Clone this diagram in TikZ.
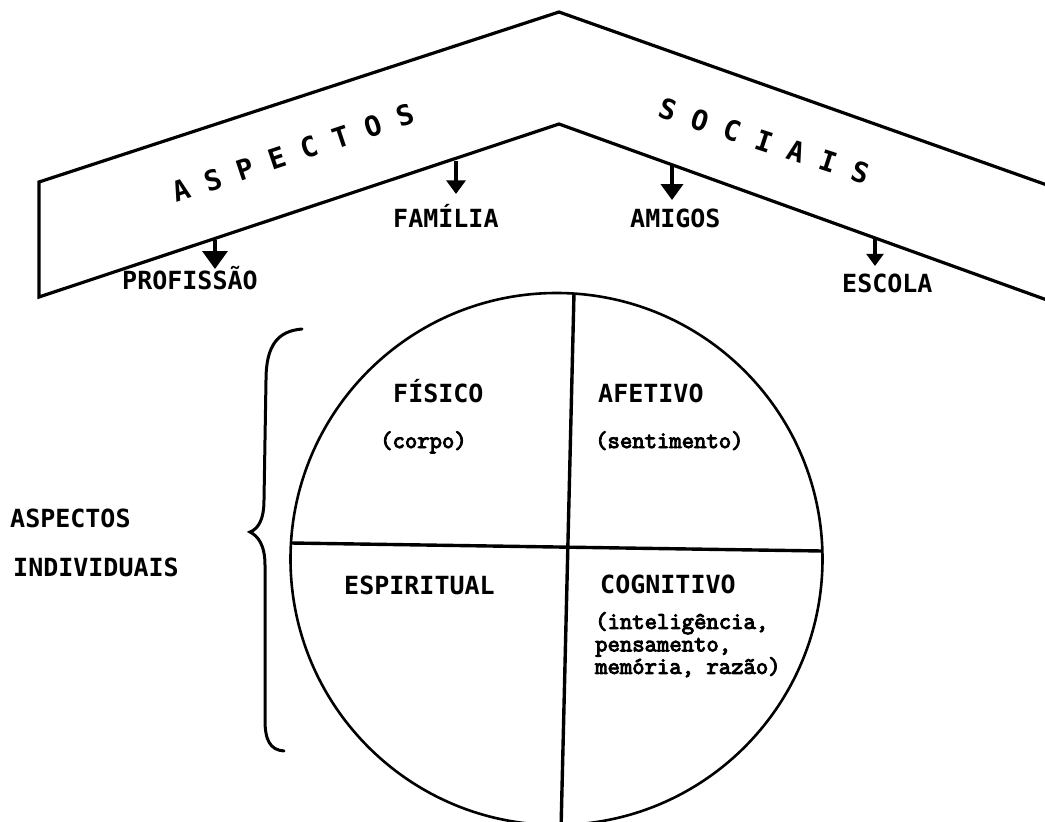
\documentclass[tikz,border=0pt]{standalone}
\usepackage{fontspec}
\newfontfamily\gothic{DejaVu Sans Mono}
\newfontfamily\typew[FakeBold=4]{Latin Modern Mono}
\usetikzlibrary{arrows.meta}
\begin{document}
\begin{tikzpicture}[x=1pt,y=-1pt,
  caps/.style={font=\gothic\bfseries\fontsize{25}{30}\selectfont, inner sep=0pt, anchor=base west},
  paren/.style={font=\typew\fontsize{24}{22.5}\selectfont, inner sep=0pt, anchor=base west},
  rooftext/.style={font=\gothic\bfseries\fontsize{28}{30}\selectfont, inner sep=0pt},
  roofline/.style={line width=3.2pt, line join=miter},
  divider/.style={line width=3.4pt},
  bigarrow/.style={line width=3.4pt, -{Triangle[width=#1pt,length=0.72*#1pt]}},
]
\useasboundingbox (0,0) rectangle (1045,822);
\clip (0,0) rectangle (1045,822);

% roof
\coordinate (oL) at (39,182);
\coordinate (oP) at (559,12);
\coordinate (oR) at (1047,185);
\coordinate (iL) at (39,297);
\coordinate (iP) at (559,124);
\coordinate (iR) at (1047,300);
\draw[roofline] (oR) -- (oP) -- (oL) -- (iL) -- (iP) -- (iR);

\node[rooftext, rotate=18.5] (asp) at (293,153) {A S P E C T O S};
\node[rooftext, rotate=-18] (soc) at (764,141) {S O C I A I S};

% arrow start points on the inner roof line
\coordinate (aProf) at (215,240);
\coordinate (aFam) at (456,161);
\coordinate (aAmi) at (672,166);
\coordinate (aEsc) at (875,238);

\node[caps] (prof) at (122,289) {PROFISSÃO};
\node[caps] (fam) at (393,227) {FAMÍLIA};
\node[caps] (ami) at (630,227) {AMIGOS};
\node[caps] (esc) at (842,292) {ESCOLA};

\coordinate (tProf) at (215,269);
\coordinate (tFam) at (456,194);
\coordinate (tAmi) at (672,200);
\coordinate (tEsc) at (875,266);

\draw[bigarrow=25] (aProf) -- (tProf);
\draw[bigarrow=19] (aFam) -- (tFam);
\draw[bigarrow=22] (aAmi) -- (tAmi);
\draw[bigarrow=17] (aEsc) -- (tEsc);

% circle
\draw[line width=2.6pt] (556.5,559) circle[radius=266];
\coordinate (vTop) at (574,293);
\coordinate (vBot) at (561,830);
\coordinate (hL) at (291,543);
\coordinate (hR) at (822,551);
\draw[divider] (vTop) -- (vBot);
\draw[divider] (hL) -- (hR);

\node[caps] (fis) at (393,402) {FÍSICO};
\node[paren] (corpo) at (380,448) {(corpo)};
\node[caps] (afe) at (598,402) {AFETIVO};
\node[paren] (sent) at (595,448) {(sentimento)};
\node[caps] (esp) at (344,594) {ESPIRITUAL};
\node[caps] (cog) at (600,593) {COGNITIVO};
\node[paren, anchor=north west, align=left] (cogtxt) at (595,612)
  {(inteligência,\\pensamento,\\memória, razão)};

% brace
\draw[line width=3pt, line cap=round]
  (302,329) .. controls (278,331) and (266,345) .. (266,380)
  -- (264,500) .. controls (264,520) and (258,529) .. (250,532)
  .. controls (258,536) and (265,545) .. (265,565)
  -- (265,720) .. controls (265,740) and (270,750) .. (284,751);

\node[caps] (ai1) at (10,527) {ASPECTOS};
\node[caps] (ai2) at (13,576) {INDIVIDUAIS};
\end{tikzpicture}
\end{document}
